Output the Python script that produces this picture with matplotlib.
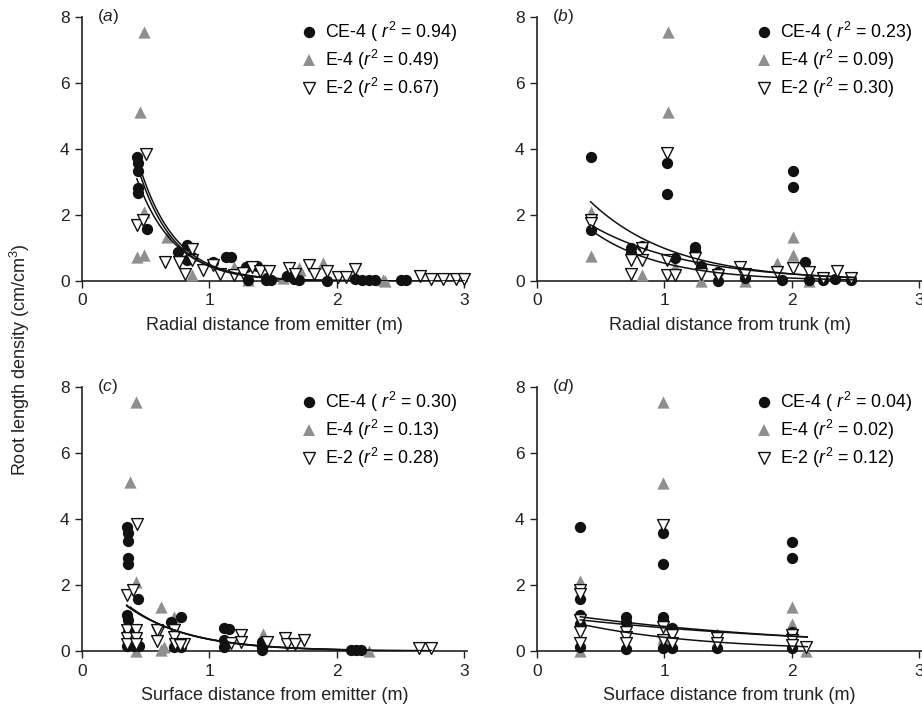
import numpy as np
import matplotlib
matplotlib.use("Agg")
import matplotlib.pyplot as plt
from matplotlib.lines import Line2D

plt.rcParams['font.family'] = ['Liberation Sans', 'DejaVu Sans']
plt.rcParams['mathtext.fontset'] = 'custom'
plt.rcParams['mathtext.rm'] = 'Liberation Sans'
plt.rcParams['mathtext.it'] = 'Liberation Sans:italic'

# ---- data ----
# (a) radial distance from emitter
a_ce4_x = [0.43, 0.44, 0.44, 0.44, 0.44, 0.51, 0.75, 0.82, 0.82, 0.86, 1.03, 1.13, 1.17, 1.29, 1.37,
           1.30, 1.44, 1.48, 1.45, 1.61, 1.66, 1.70, 1.92, 2.14, 2.20, 2.25, 2.30, 2.50, 2.54]
a_ce4_y = [3.77, 3.57, 3.34, 2.81, 2.66, 1.57, 0.89, 1.09, 0.64, 0.73, 0.58, 0.72, 0.72, 0.43, 0.45,
           0.02, 0.02, 0.02, 0.08, 0.14, 0.05, 0.02, 0.0, 0.05, 0.02, 0.02, 0.02, 0.02, 0.02]
a_e4_x = [0.49, 0.455, 0.49, 0.43, 0.49, 0.67, 0.86, 1.19, 1.30, 1.58, 1.70, 1.71, 1.89, 2.36, 2.38]
a_e4_y = [7.55, 5.13, 2.1, 0.74, 0.79, 1.34, 0.18, 0.43, 0.02, 0.09, 0.38, 0.33, 0.54, 0.03, 0.0]
a_e2_x = [0.50, 0.43, 0.48, 0.65, 0.76, 0.81, 0.86, 0.86, 0.95, 1.03, 1.08, 1.19, 1.26, 1.33, 1.40,
          1.47, 1.62, 1.67, 1.78, 1.82, 1.92, 2.01, 2.07, 2.14, 2.65, 2.74, 2.83, 2.93, 3.0]
a_e2_y = [3.85, 1.70, 1.85, 0.58, 0.58, 0.20, 0.96, 0.64, 0.33, 0.48, 0.21, 0.18, 0.24, 0.43, 0.30,
          0.31, 0.38, 0.20, 0.48, 0.21, 0.30, 0.11, 0.12, 0.35, 0.15, 0.05, 0.05, 0.05, 0.05]

# (b) radial distance from trunk
b_ce4_x = [0.42, 1.02, 1.02, 2.01, 2.01, 0.42, 0.74, 0.82, 0.74, 1.08, 1.24, 1.24, 1.29, 1.42, 1.42,
           1.63, 1.92, 2.10, 2.13, 2.24, 2.34, 2.46]
b_ce4_y = [3.77, 3.57, 2.64, 3.34, 2.84, 1.55, 0.99, 1.06, 0.85, 0.69, 1.02, 0.92, 0.45, 0.28, 0.0,
           0.10, 0.02, 0.58, 0.02, 0.02, 0.05, 0.02]
b_e4_x = [1.03, 1.03, 0.42, 0.42, 0.82, 1.08, 1.29, 1.63, 1.88, 2.01, 2.01, 2.13]
b_e4_y = [7.55, 5.13, 2.1, 0.77, 0.18, 0.43, 0.0, 0.0, 0.54, 1.34, 0.79, 0.0]
b_e2_x = [0.42, 0.42, 0.74, 0.82, 0.74, 0.82, 1.02, 1.02, 1.02, 1.08, 1.24, 1.29, 1.42, 1.59, 1.63,
          1.88, 2.01, 2.13, 2.24, 2.35, 2.46]
b_e2_y = [1.85, 1.75, 0.64, 0.64, 0.20, 0.99, 3.87, 0.64, 0.18, 0.18, 0.69, 0.20, 0.18, 0.43, 0.20,
          0.28, 0.38, 0.28, 0.08, 0.31, 0.08]

# (c) surface distance from emitter
c_ce4_x = [0.35, 0.36, 0.36, 0.36, 0.36, 0.44, 0.35, 0.36, 0.36, 0.35, 0.41, 0.45, 0.70, 0.78, 0.72,
           0.78, 1.11, 1.15, 1.11, 1.11, 1.41, 1.41, 1.41, 2.11, 2.15, 2.19]
c_ce4_y = [3.77, 3.57, 3.34, 2.81, 2.64, 1.57, 1.09, 0.94, 0.58, 0.15, 0.15, 0.15, 0.89, 1.02, 0.13,
           0.13, 0.69, 0.66, 0.33, 0.13, 0.28, 0.13, 0.03, 0.03, 0.03, 0.03]
c_e4_x = [0.42, 0.38, 0.42, 0.62, 0.72, 0.64, 1.42, 2.25, 0.42, 0.62]
c_e4_y = [7.55, 5.13, 2.1, 1.34, 1.04, 0.13, 0.53, 0.0, 0.0, 0.02]
c_e2_x = [0.43, 0.35, 0.40, 0.35, 0.42, 0.35, 0.42, 0.35, 0.42, 0.60, 0.59, 0.59, 0.72, 0.72, 0.73,
          0.80, 0.77, 1.17, 1.25, 1.25, 1.45, 1.59, 1.61, 1.67, 1.74, 2.64, 2.74]
c_e2_y = [3.85, 1.70, 1.85, 0.64, 0.64, 0.38, 0.38, 0.20, 0.20, 0.58, 0.64, 0.30, 0.64, 0.43, 0.20,
          0.20, 0.18, 0.23, 0.48, 0.28, 0.28, 0.38, 0.21, 0.20, 0.33, 0.08, 0.08]

# (d) surface distance from trunk
d_ce4_x = [0.34, 0.99, 0.99, 2.0, 2.0, 0.34, 0.34, 0.34, 0.34, 0.70, 0.70, 0.70, 0.99, 0.99, 1.06,
           0.99, 1.06, 1.41, 2.0, 2.0]
d_ce4_y = [3.77, 3.57, 2.64, 3.31, 2.81, 1.57, 1.09, 0.82, 0.13, 1.04, 0.89, 0.05, 1.04, 0.94, 0.69,
           0.08, 0.08, 0.08, 0.58, 0.08]
d_e4_x = [0.99, 0.99, 0.34, 0.34, 2.0, 2.0, 1.41, 2.11, 0.99]
d_e4_y = [7.55, 5.10, 2.13, 0.0, 1.32, 0.82, 0.53, 0.0, 0.40]
d_e2_x = [0.99, 0.34, 0.34, 0.34, 0.34, 0.34, 0.70, 0.70, 0.70, 0.99, 0.99, 1.06, 1.06, 1.41, 1.41,
          2.0, 2.0, 2.0, 2.11]
d_e2_y = [3.82, 1.85, 1.73, 0.94, 0.58, 0.23, 0.58, 0.43, 0.23, 0.74, 0.33, 0.48, 0.23, 0.38, 0.23,
          0.48, 0.33, 0.18, 0.13]

# fitted exponential curves y = a*exp(-k*x), (a, k, x_start, x_end), order CE-4, E-4, E-2
a_fits = [(17.2, 3.54, 0.44, 2.54), (16.8, 3.62, 0.43, 2.38), (13.3, 3.39, 0.43, 3.0)]
b_fits = [(3.33, 1.82, 0.42, 2.5), (4.57, 1.53, 0.42, 2.5), (2.96, 1.32, 0.42, 2.5)]
c_fits = [(2.9, 2.10, 0.35, 2.2), (3.0, 2.15, 0.38, 2.25), (2.8, 2.05, 0.35, 2.74)]
d_fits = [(1.16, 1.03, 0.34, 2.12), (1.23, 0.50, 0.34, 2.12), (1.10, 0.45, 0.34, 2.12)]

a_r2 = ["0.94", "0.49", "0.67"]
b_r2 = ["0.23", "0.09", "0.30"]
c_r2 = ["0.30", "0.13", "0.28"]
d_r2 = ["0.04", "0.02", "0.12"]

xlabels = ["Radial distance from emitter (m)", "Radial distance from trunk (m)",
           "Surface distance from emitter (m)", "Surface distance from trunk (m)"]
panel_tags = ["a", "b", "c", "d"]

GRAY = "#8f8f8f"
DARK = "#111111"

fig = plt.figure(figsize=(9.22, 7.19), dpi=100)
W, H = 922, 719
positions = [(82, 17, 385, 264), (537, 17, 385, 264), (82, 387, 385, 264), (537, 387, 385, 264)]

panels = [
    (a_ce4_x, a_ce4_y, a_e4_x, a_e4_y, a_e2_x, a_e2_y, a_fits, a_r2),
    (b_ce4_x, b_ce4_y, b_e4_x, b_e4_y, b_e2_x, b_e2_y, b_fits, b_r2),
    (c_ce4_x, c_ce4_y, c_e4_x, c_e4_y, c_e2_x, c_e2_y, c_fits, c_r2),
    (d_ce4_x, d_ce4_y, d_e4_x, d_e4_y, d_e2_x, d_e2_y, d_fits, d_r2),
]

for i, (pos, data) in enumerate(zip(positions, panels)):
    l, t, w, h = pos
    ax = fig.add_axes([l / W, 1 - (t + h) / H, w / W, h / H])
    cx, cy, gx, gy, ex, ey, fits, r2 = data

    ax.scatter(gx, gy, s=78, marker="^", color=GRAY, linewidths=0, zorder=3, clip_on=False)
    ax.scatter(cx, cy, s=66, marker="o", color=DARK, linewidths=0, zorder=4, clip_on=False)
    ax.scatter(ex, ey, s=72, marker="v", facecolor="white", edgecolor=DARK,
               linewidths=1.0, zorder=5, clip_on=False)

    for a, k, x0, x1 in fits:
        xx = np.linspace(x0, x1, 120)
        ax.plot(xx, a * np.exp(-k * xx), color=DARK, lw=1.1, zorder=6)

    ax.set_xlim(0, 3.02)
    ax.set_ylim(0, 8)
    ax.set_xticks([0, 1, 2, 3])
    ax.set_yticks([0, 2, 4, 6, 8])
    ax.spines["top"].set_visible(False)
    ax.spines["right"].set_visible(False)
    for s in ["left", "bottom"]:
        ax.spines[s].set_linewidth(1.2)
        ax.spines[s].set_color("#222222")
    ax.tick_params(direction="out", length=5, width=1.0, labelsize=12.5, colors="#222222", pad=4)
    ax.set_xlabel(xlabels[i], fontsize=13, labelpad=6, color="#222222")

    ax.text(0.04, 1.0, "($" + panel_tags[i] + "$)", transform=ax.transAxes, fontsize=12.5,
            va="center", ha="left", color="#222222")

    handles = [
        Line2D([], [], ls="", marker="o", ms=8.2, color=DARK, mew=0),
        Line2D([], [], ls="", marker="^", ms=8.4, color=GRAY, mew=0),
        Line2D([], [], ls="", marker="v", ms=8.0, mfc="white", mec=DARK, mew=1.0),
    ]
    labels = ["CE-4 ( $r^2$ = " + r2[0] + ")",
              "E-4 ($r^2$ = " + r2[1] + ")",
              "E-2 ($r^2$ = " + r2[2] + ")"]
    ax.legend(handles, labels, loc="upper left", bbox_to_anchor=(0.57, 0.99), frameon=False,
              fontsize=12.8, handlelength=0.9, handletextpad=0.45, labelspacing=0.22,
              borderpad=0, borderaxespad=0)

fig.text(0.022, 0.5, "Root length density (cm/cm$^3$)", rotation=90, va="center", ha="center",
         fontsize=13, color="#222222")

fig.savefig("out.png", dpi=100)
